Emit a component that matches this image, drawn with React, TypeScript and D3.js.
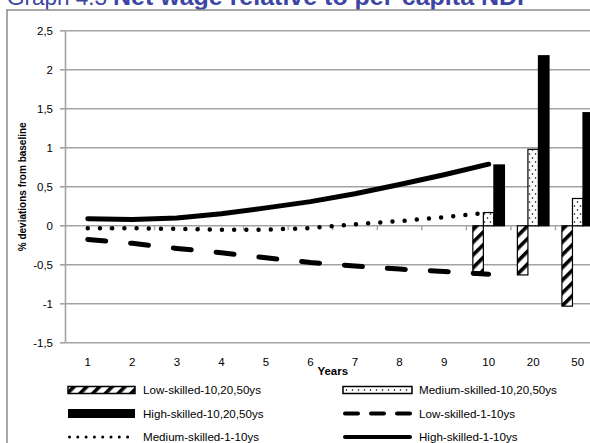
import React from 'react';
import * as d3 from 'd3';

const categories = ['1', '2', '3', '4', '5', '6', '7', '8', '9', '10', '20', '50'];
const barCategories = ['10', '20', '50'];
const lowSkilledBars = [-0.63, -0.63, -1.03];
const mediumSkilledBars = [0.17, 0.98, 0.35];
const highSkilledBars = [0.78, 2.18, 1.45];
const lineCategories = ['1', '2', '3', '4', '5', '6', '7', '8', '9', '10'];
const lowSkilledLine = [-0.175, -0.225, -0.29, -0.345, -0.41, -0.47, -0.515, -0.555, -0.585, -0.62];
const mediumSkilledLine = [-0.03, -0.03, -0.04, -0.05, -0.05, -0.03, 0.02, 0.06, 0.11, 0.17];
const highSkilledLine = [0.09, 0.08, 0.1, 0.155, 0.23, 0.31, 0.41, 0.53, 0.655, 0.79];
const yTicks = [-1.5, -1, -0.5, 0, 0.5, 1, 1.5, 2, 2.5];
const barSeries = ['low', 'medium', 'high'];

const W = 590;
const H = 443;
const FONT = '"Liberation Sans", Arial, sans-serif';
const GRID = '#a3a3a3';

const locale = d3.formatLocale({ decimal: ',', thousands: '.', grouping: [3], currency: ['', ''], minus: '-' });
const fmt = locale.format('');

export default function App() {
  const x = d3.scaleBand<string>().domain(categories).range([65.5, 600]).padding(0);
  const y = d3.scaleLinear().domain([-1.5, 2.5]).range([342.8, 30.8]);
  const bw = x.bandwidth();
  const inner = d3.scaleBand<string>().domain(barSeries).range([bw * 0.145, bw * 0.855]).padding(0);
  const cx = (c: string) => (x(c) as number) + bw / 2;

  const line = d3.line<number>().x((_, i) => cx(lineCategories[i])).y((d) => y(d));

  const barFill: Record<string, string> = { low: 'url(#hatch)', medium: 'url(#dots)', high: '#000' };
  const barData: Record<string, number[]> = { low: lowSkilledBars, medium: mediumSkilledBars, high: highSkilledBars };

  const legendRows = [390, 413.5, 437];
  const col1 = [68, 135, 143];
  const col2 = [343, 412, 419];
  const LF = 11.6;

  return (
    <div style={{ position: 'fixed', left: 0, top: 0 }}>
      <svg width={W} height={H} style={{ display: 'block', background: '#fff' }} fontFamily={FONT}>
        <defs>
          <pattern id="hatch" width={9} height={9} patternUnits="userSpaceOnUse" patternTransform="rotate(45)">
            <rect width={9} height={9} fill="#fff" />
            <rect width={3.6} height={9} fill="#000" />
          </pattern>
          <pattern id="dots" width={6} height={8} patternUnits="userSpaceOnUse">
            <rect width={6} height={8} fill="#fff" />
            <circle cx={1.5} cy={2} r={0.8} fill="#000" />
            <circle cx={4.5} cy={6} r={0.8} fill="#000" />
          </pattern>
        </defs>

        {/* title */}
        <text y={5} fill="#3d45a3">
          <tspan x={7} fontSize={22.5}>Graph 4.3 </tspan>
          <tspan x={113} fontSize={23.5} fontWeight="bold" textLength={411} lengthAdjust="spacingAndGlyphs">
            Net wage relative to per-capita NDI
          </tspan>
        </text>

        {/* chart frame */}
        <path d={`M7,${H + 2}V10H${W + 2}`} fill="none" stroke="#8c8c8c" strokeWidth={1.5} />

        {/* gridlines */}
        {yTicks.map((t) => (
          <g key={t}>
            <line x1={65.5} x2={600} y1={y(t)} y2={y(t)} stroke={GRID} strokeWidth={1.6} />
            <line x1={60} x2={65.5} y1={y(t)} y2={y(t)} stroke={GRID} strokeWidth={1.6} />
            <text x={53} y={y(t)} dy="0.35em" textAnchor="end" fontSize={11.5} fill="#000">
              {fmt(t)}
            </text>
          </g>
        ))}
        {/* y axis */}
        <line x1={65.5} x2={65.5} y1={y(2.5)} y2={y(-1.5)} stroke={GRID} strokeWidth={1.6} />
        {/* x axis ticks at category boundaries */}
        {categories.slice(1).map((c) => (
          <line key={c} x1={x(c) as number} x2={x(c) as number} y1={y(0)} y2={y(0) + 4.5} stroke={GRID} strokeWidth={1.4} />
        ))}

        {/* bars */}
        {barSeries.map((s) =>
          barCategories.map((c, i) => {
            const v = barData[s][i];
            const x0 = (x(c) as number) + (inner(s) as number);
            const y0 = Math.min(y(v), y(0));
            const h = Math.abs(y(v) - y(0));
            return (
              <rect key={s + c} x={x0} y={y0} width={inner.bandwidth()} height={h} fill={barFill[s]} stroke="#000" strokeWidth={1.2} />
            );
          })
        )}

        {/* lines */}
        <path d={line(lowSkilledLine) as string} fill="none" stroke="#000" strokeWidth={5} strokeDasharray="18 25" strokeLinecap="round" />
        <path d={line(mediumSkilledLine) as string} fill="none" stroke="#000" strokeWidth={4.5} strokeDasharray="0 12.2" strokeLinecap="round" />
        <path d={line(highSkilledLine) as string} fill="none" stroke="#000" strokeWidth={5} strokeLinecap="round" />

        {/* category labels */}
        {categories.map((c) => (
          <text key={c} x={cx(c)} y={362} dy="0.35em" textAnchor="middle" fontSize={11.5} fill="#000">
            {c}
          </text>
        ))}
        <text x={(65.5 + 600) / 2} y={371} dy="0.35em" textAnchor="middle" fontSize={11.5} fontWeight="bold" fill="#000">
          Years
        </text>
        <text transform={`translate(22,${(y(2.5) + y(-1.5)) / 2}) rotate(-90)`} textAnchor="middle" dy="0.35em" fontSize={10} fontWeight="bold" fill="#000">
          % deviations from baseline
        </text>

        {/* legend */}
        <rect x={col1[0]} y={legendRows[0] - 3.5} width={col1[1] - col1[0]} height={7} fill="url(#hatch)" stroke="#000" strokeWidth={1.5} />
        <text x={col1[2]} y={legendRows[0]} dy="0.35em" fontSize={LF}>Low-skilled-10,20,50ys</text>
        <rect x={col2[0]} y={legendRows[0] - 3.5} width={col2[1] - col2[0]} height={7} fill="url(#dots)" stroke="#000" strokeWidth={1.5} />
        <text x={col2[2]} y={legendRows[0]} dy="0.35em" fontSize={LF}>Medium-skilled-10,20,50ys</text>

        <rect x={col1[0]} y={legendRows[1] - 4.5} width={col1[1] - col1[0]} height={9} fill="#000" />
        <text x={col1[2]} y={legendRows[1]} dy="0.35em" fontSize={LF}>High-skilled-10,20,50ys</text>
        <line x1={col2[0] + 2} x2={col2[1] - 2} y1={legendRows[1]} y2={legendRows[1]} stroke="#000" strokeWidth={4} strokeDasharray="13 13" strokeLinecap="round" />
        <text x={col2[2]} y={legendRows[1]} dy="0.35em" fontSize={LF}>Low-skilled-1-10ys</text>

        <line x1={col1[0] + 1.5} x2={col1[1]} y1={legendRows[2]} y2={legendRows[2]} stroke="#000" strokeWidth={3} strokeDasharray="0 8.3" strokeLinecap="round" />
        <text x={col1[2]} y={legendRows[2]} dy="0.35em" fontSize={LF}>Medium-skilled-1-10ys</text>
        <line x1={col2[0] + 2} x2={col2[1] - 2} y1={legendRows[2]} y2={legendRows[2]} stroke="#000" strokeWidth={4} strokeLinecap="round" />
        <text x={col2[2]} y={legendRows[2]} dy="0.35em" fontSize={LF}>High-skilled-1-10ys</text>
      </svg>
    </div>
  );
}
